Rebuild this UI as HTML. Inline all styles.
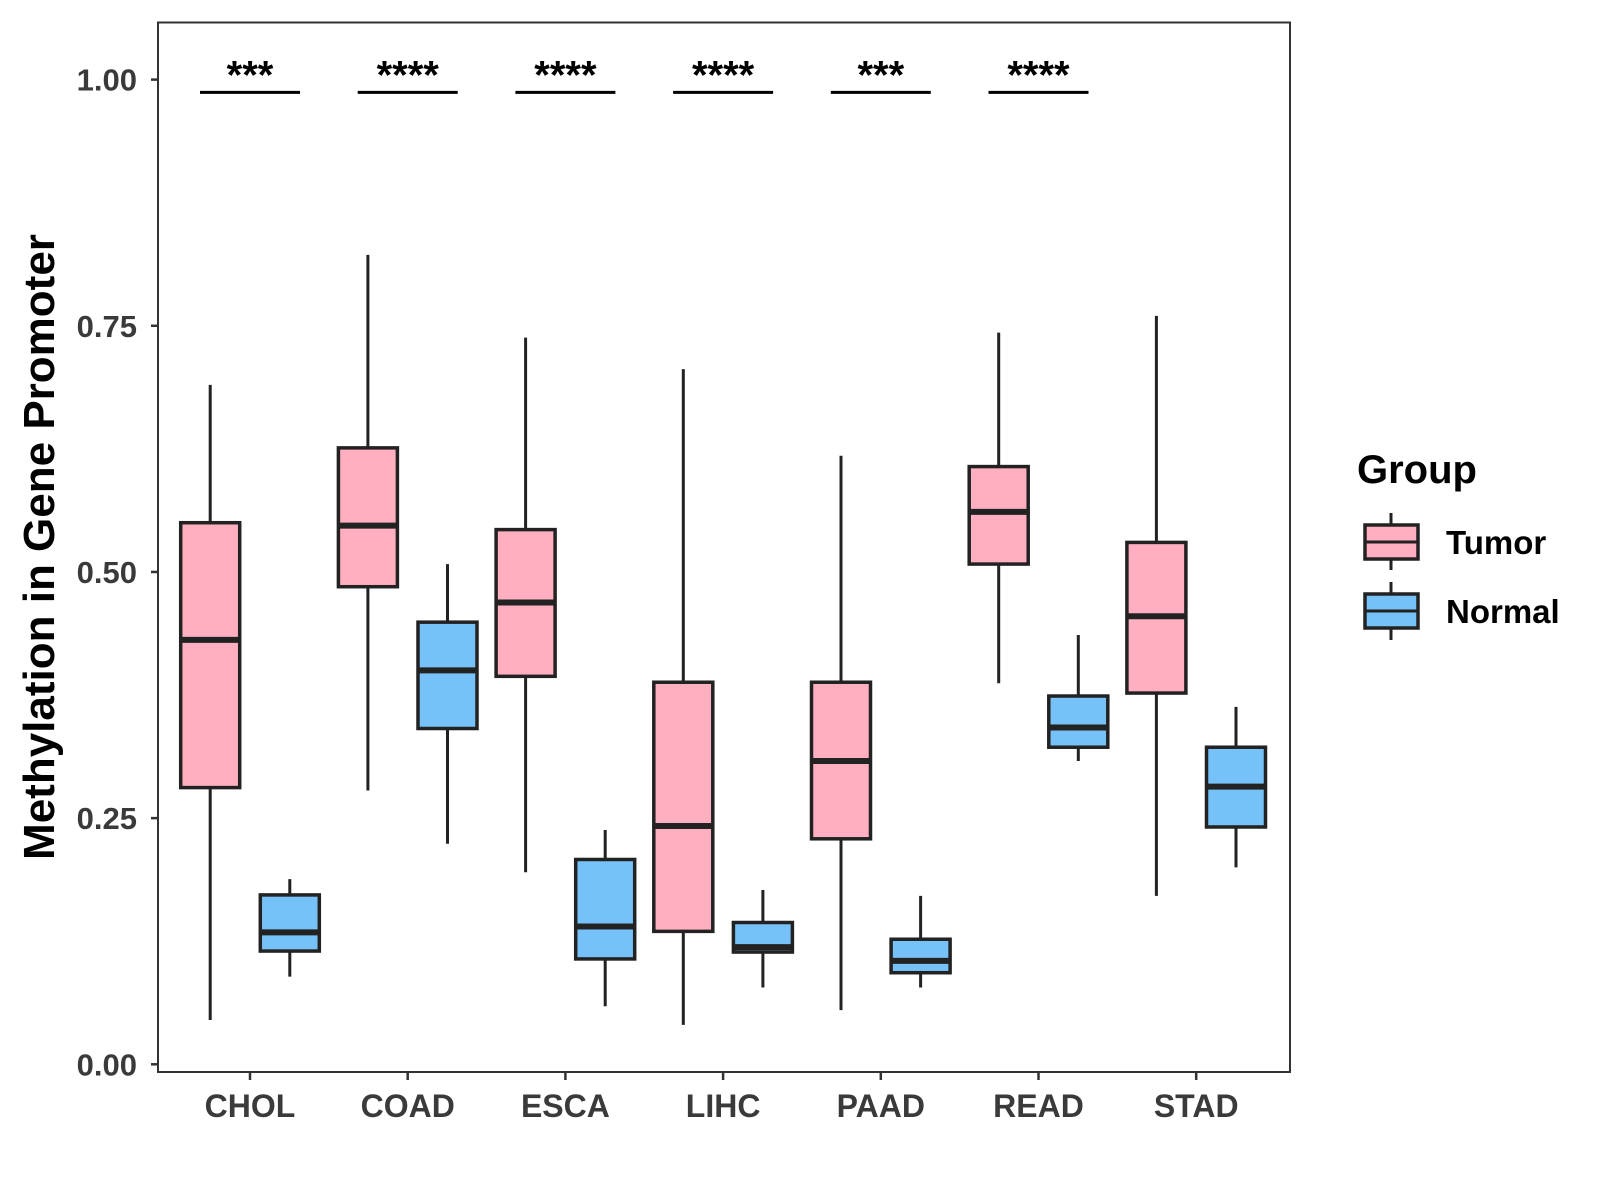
<!DOCTYPE html>
<html><head><meta charset="utf-8"><style>
body{margin:0;background:#fff;}
svg{display:block;font-family:"Liberation Sans",sans-serif;}
</style></head><body>
<svg id="chart" width="1600" height="1200" viewBox="0 0 1600 1200">
<rect x="158" y="22.5" width="1132" height="1049.5" fill="#fff" stroke="#333" stroke-width="2"/>
<g id="marks"></g>
<text transform="translate(54,547) rotate(-90)" text-anchor="middle" font-size="44" font-weight="bold" fill="#000">Methylation in Gene Promoter</text>
<g>
<text x="1357" y="483" font-size="40" font-weight="bold" fill="#000">Group</text>
<g>
<line x1="1391" y1="513" x2="1391" y2="570" stroke="#222" stroke-width="3"/>
<rect x="1365" y="525" width="53" height="34" fill="#ffafc0" stroke="#222" stroke-width="3.5"/>
<line x1="1365" y1="542" x2="1418" y2="542" stroke="#222" stroke-width="3"/>
<text x="1446" y="554" font-size="33" font-weight="bold" fill="#000">Tumor</text>
</g>
<g>
<line x1="1391" y1="582" x2="1391" y2="640" stroke="#222" stroke-width="3"/>
<rect x="1365" y="594" width="53" height="34" fill="#76c1f8" stroke="#222" stroke-width="3.5"/>
<line x1="1365" y1="611" x2="1418" y2="611" stroke="#222" stroke-width="3"/>
<text x="1446" y="623" font-size="33" font-weight="bold" fill="#000">Normal</text>
</g>
</g>
</svg>
<script>
const categories=["CHOL","COAD","ESCA","LIHC","PAAD","READ","STAD"];
// [lower whisker, Q1, median, Q3, upper whisker]
const tumorStats=[[0.045,0.281,0.431,0.550,0.690],[0.278,0.485,0.547,0.626,0.822],[0.195,0.394,0.469,0.543,0.738],[0.040,0.135,0.242,0.388,0.706],[0.055,0.229,0.308,0.388,0.618],[0.387,0.508,0.561,0.607,0.743],[0.171,0.377,0.455,0.530,0.760]];
const normalStats=[[0.089,0.115,0.134,0.172,0.188],[0.224,0.341,0.400,0.449,0.508],[0.059,0.107,0.140,0.208,0.238],[0.078,0.114,0.119,0.144,0.177],[0.078,0.093,0.105,0.127,0.171],[0.308,0.322,0.342,0.374,0.436],[0.200,0.241,0.282,0.322,0.363]];
const sigLabels=["***","****","****","****","***","****"];
const sigLevel=0.987;
const yTicks=[0,0.25,0.5,0.75,1.0];
const yTickLabels=["0.00","0.25","0.50","0.75","1.00"];

const NS="http://www.w3.org/2000/svg";
const g=document.getElementById('marks');
function y(v){return 1064.3-v*984.7;}
function xc(i){return 250+i*157.7;}
function mk(tag,attrs){const e=document.createElementNS(NS,tag);for(const k in attrs)e.setAttribute(k,attrs[k]);g.appendChild(e);return e;}
yTicks.forEach((t,i)=>{
  const l=mk('line',{x1:151,x2:158,y1:y(t),y2:y(t),stroke:'#333','stroke-width':2.5});
  
  
  const tx=mk('text',{x:137,y:y(t)+11,'text-anchor':'end','font-size':31,'font-weight':'bold',fill:'#3a3a3a'});
  tx.textContent=yTickLabels[i];
  
  
});
categories.forEach((c,i)=>{
  const l=mk('line',{x1:xc(i),x2:xc(i),y1:1072,y2:1080,stroke:'#333','stroke-width':2.5});
  
  
  const tx=mk('text',{x:xc(i),y:1117,'text-anchor':'middle','font-size':32,'font-weight':'bold',fill:'#3a3a3a'});
  tx.textContent=c;
  
  
});
function box(s,cx,fill,name){
  const w=59;
  const wl=mk('line',{x1:cx,x2:cx,y1:y(s[0]),y2:y(s[4]),stroke:'#222','stroke-width':3});
  
  
  const r=mk('rect',{x:cx-w/2,y:y(s[3]),width:w,height:y(s[1])-y(s[3]),fill:fill,stroke:'#222','stroke-width':3.5});
  
  
  const m=mk('line',{x1:cx-w/2,x2:cx+w/2,y1:y(s[2]),y2:y(s[2]),stroke:'#222','stroke-width':6});
  
  
}
categories.forEach((c,i)=>{
  box(tumorStats[i],xc(i)-39.8,'#ffafc0','tumor-'+c.toLowerCase());
  box(normalStats[i],xc(i)+39.8,'#76c1f8','normal-'+c.toLowerCase());
});
sigLabels.forEach((s,i)=>{
  const l=mk('line',{x1:xc(i)-50,x2:xc(i)+50,y1:y(sigLevel),y2:y(sigLevel),stroke:'#000','stroke-width':3});
  
  
  const t=mk('text',{x:xc(i),y:y(sigLevel)-4,'text-anchor':'middle','font-size':40,'font-weight':'bold',fill:'#000'});
  t.textContent=s;
  
  
});
</script>
</body></html>
